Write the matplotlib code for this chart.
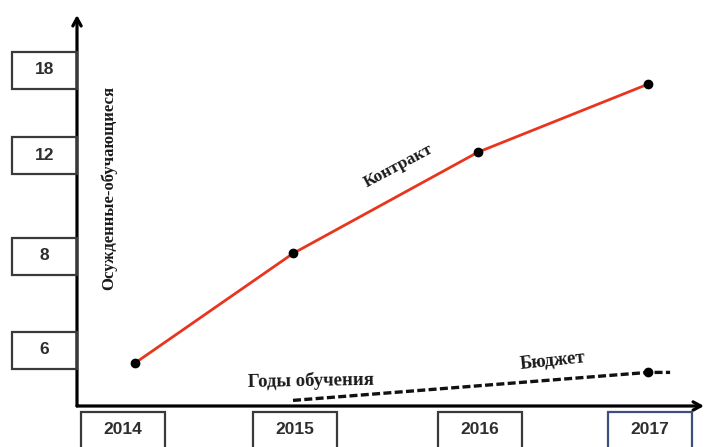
import numpy as np
import matplotlib.pyplot as plt
from matplotlib.patches import Rectangle
from matplotlib.transforms import IdentityTransform

# --- данные ---
years = [2014, 2015, 2016, 2017]
contract = [4.6, 8.1, 12.2, 17.0]
budget_years = [2015, 2017, 2017.13]
budget = [0.6, 3.6, 3.6]
y_ticks = [6, 8, 12, 18]
x_ticks = [2014, 2015, 2016, 2017]

# --- неравномерные шкалы (значение -> позиция) ---
x_knots = [2013, 2014, 2015, 2016, 2017, 2018]
x_pos = [-23, 135, 293, 478, 648, 818]
y_knots = [0, 6, 8, 12, 18, 24]
y_pos = [0, 56, 150, 251, 336, 421]
box_shift = [-12, 2, 2, 2]   # смещение рамок подписей по X, px

W, H = 706, 447

fig = plt.figure(figsize=(W / 100, H / 100), dpi=100)
ax = fig.add_axes([77 / W, (H - 406) / H, (704 - 77) / W, (406 - 15) / H])

fx = lambda v: np.interp(v, x_knots, x_pos)
ix = lambda p: np.interp(p, x_pos, x_knots)
fy = lambda v: np.interp(v, y_knots, y_pos)
iy = lambda p: np.interp(p, y_pos, y_knots)
ax.set_xscale('function', functions=(fx, ix))
ax.set_yscale('function', functions=(fy, iy))
ax.set_xlim(ix(77), ix(704))
ax.set_ylim(0, iy(391))

for s in ax.spines.values():
    s.set_visible(False)
ax.set_xticks([])
ax.set_yticks([])

# оси со стрелками
arrow = dict(arrowstyle='->,head_length=0.55,head_width=0.3', lw=2.3, color='black',
             shrinkA=0, shrinkB=0)
ax.annotate('', xy=(0, 1), xytext=(0, 0), xycoords='axes fraction', arrowprops=arrow,
            annotation_clip=False)
ax.annotate('', xy=(1, 0), xytext=(0, 0), xycoords='axes fraction', arrowprops=arrow,
            annotation_clip=False)

# линии
ax.plot(years, contract, color='#e8361e', lw=2.0, zorder=2, clip_on=False)
ax.plot(years, contract, 'o', color='black', ms=6, zorder=3, clip_on=False)
ax.plot(budget_years, budget, color='#111111', lw=2.4, dashes=(2.4, 1.0), zorder=2, clip_on=False)
ax.plot(budget_years[1], budget[1], 'o', color='black', ms=6, zorder=3, clip_on=False)

fig.canvas.draw()
ident = IdentityTransform()

# рамки с подписями по оси Y
for v in y_ticks:
    yd = ax.transData.transform((x_ticks[0], v))[1]
    fig.add_artist(Rectangle((12, yd - 18.5), 65, 37, transform=ident, fill=False,
                             edgecolor='#3a3a3a', lw=1.6))
    fig.text(44.5, yd, str(v), transform=ident, ha='center', va='center',
             fontsize=12.5, fontweight='bold', family='Liberation Sans', color='#2e2e2e')

# рамки с подписями по оси X
for i, yr in enumerate(x_ticks):
    xd = ax.transData.transform((yr, y_ticks[0]))[0] + box_shift[i]
    ec = '#3d4f7c' if i == len(x_ticks) - 1 else '#3a3a3a'
    fig.add_artist(Rectangle((xd - 42, -20), 84, H - 412 + 20, transform=ident, fill=False,
                             edgecolor=ec, lw=1.6))
    fig.text(xd, H - 430, str(yr), transform=ident, ha='center', va='center',
             fontsize=12.5, fontweight='bold', family='Liberation Sans', color='#2e2e2e')

serif = dict(family='Liberation Serif', fontweight='bold', color='#1a1a1a', transform=ident,
             ha='center', va='center')
fig.text(398, H - 166, 'Контракт', rotation=28, fontsize=12.5, **serif)
fig.text(553, H - 361, 'Бюджет', rotation=6, fontsize=13.5, **serif)
fig.text(311, H - 381, 'Годы обучения', rotation=1, fontsize=13.5, **serif)
fig.text(109, H - 188, 'Осужденные-обучающиеся', rotation=90, fontsize=12, **serif)

fig.savefig('out.png', dpi=100)
